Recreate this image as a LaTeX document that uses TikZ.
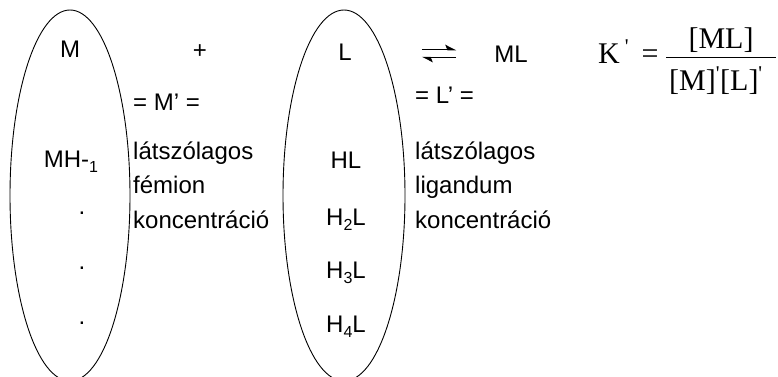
\documentclass[tikz,border=0pt]{standalone}
\usepackage{fontspec}
\setmainfont{Liberation Sans}
\newfontfamily\timesfont{Liberation Serif}[Ligatures=TeXOff]
\usetikzlibrary{arrows.meta}
\newcommand{\chemsub}[1]{\raisebox{-5pt}{\fontsize{16}{16}\selectfont #1}}

\begin{document}
\begin{tikzpicture}[x=1pt,y=-1pt]
    \tikzset{chemtext/.style={inner sep=0pt,font=\fontsize{24}{28}\selectfont},
      formtext/.style={inner sep=0pt,font=\timesfont\fontsize{30}{34}\selectfont},
      groupoval/.style={draw,line width=0.9pt},
      harpoon/.style={line width=0.9pt,-{Stealth[left,length=10pt,width=10pt,inset=2pt]}}}
    \useasboundingbox (0,0) rectangle (778,376);
    % metal and ligand groups
    \draw[groupoval] (70,195.5) ellipse [x radius=60,y radius=185.5];
    \draw[groupoval] (344,195.5) ellipse [x radius=61,y radius=185.5];
    \node[chemtext,anchor=base] (m) at (70,57) {M};
    \node[chemtext] (plus) at (200,52) {+};
    \node[chemtext,anchor=base] (l) at (345,60) {L};
    \node[inner sep=0pt,minimum width=34pt,minimum height=7pt] (eq) at (439,53.5) {};
    \draw[harpoon] (eq.north west) -- (eq.north east);
    \draw[harpoon] (eq.south east) -- (eq.south west);
    \node[chemtext,anchor=base] (ml) at (511,62) {ML};
    % conditional stability constant
    \node[formtext,anchor=base west] (kleft) at (598,63) {K\hspace{5pt}\textsuperscript{'}};
    \node[formtext,anchor=base] (keq) at (650,63) {=};
    \node[formtext,anchor=base] (knum) at (721,48) {[ML]};
    \node[formtext,anchor=base] (kden) at (716,90) {[M]\textsuperscript{'}[L]\textsuperscript{'}};
    \coordinate (barl) at (666,57);
    \coordinate (barr) at (776,57);
    \draw[line width=0.9pt] (barl) -- (barr);
    % inside the ovals
    \node[chemtext,anchor=base] (mh) at (71,167) {MH-\chemsub{1}};
    \node[chemtext] (dot1) at (82,213) {.};
    \node[chemtext] (dot2) at (82,268) {.};
    \node[chemtext] (dot3) at (82,323) {.};
    \node[chemtext,anchor=base] (hl) at (346,168) {HL};
    \node[chemtext,anchor=base] (h2l) at (346,225) {H\chemsub{2}L};
    \node[chemtext,anchor=base] (h3l) at (346,278) {H\chemsub{3}L};
    \node[chemtext,anchor=base] (h4l) at (346,332) {H\chemsub{4}L};
    % apparent concentrations
    \node[chemtext,anchor=base west] (mprime) at (133,110) {= M’ =};
    \node[chemtext,anchor=base west] (mapp1) at (133,159) {látszólagos};
    \node[chemtext,anchor=base west] (mapp2) at (133,193) {fémion};
    \node[chemtext,anchor=base west] (mapp3) at (133,228) {koncentráció};
    \node[chemtext,anchor=base west] (lprime) at (415,103) {= L’ =};
    \node[chemtext,anchor=base west] (lapp1) at (415,159) {látszólagos};
    \node[chemtext,anchor=base west] (lapp2) at (415,193) {ligandum};
    \node[chemtext,anchor=base west] (lapp3) at (415,228) {koncentráció};
\end{tikzpicture}
\end{document}
